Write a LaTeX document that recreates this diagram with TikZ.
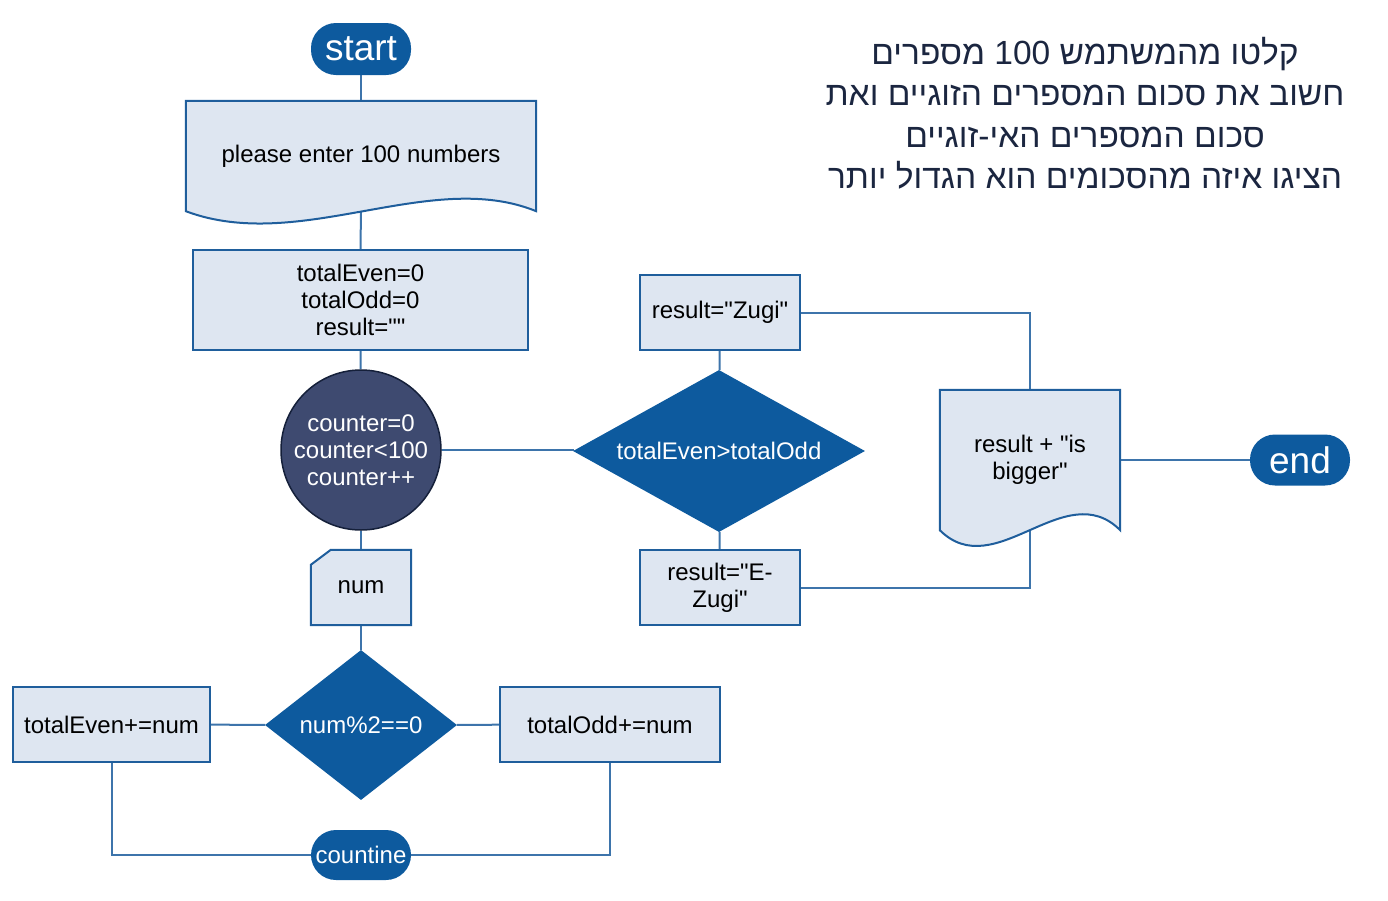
\documentclass[tikz,border=0pt]{standalone}
\usepackage{fontspec}
\setmainfont{Liberation Sans}[Ligatures=TeXOff]
\newfontfamily\hebfont[Script=Hebrew]{Liberation Sans}
\TeXXeTstate=1
\usetikzlibrary{shapes.geometric}
\definecolor{lightfill}{HTML}{DEE6F1}
\definecolor{bord}{HTML}{1F5E9C}
\definecolor{bluefill}{HTML}{0D5A9E}
\definecolor{linec}{HTML}{3D74AB}
\definecolor{circfill}{HTML}{3E4A70}
\definecolor{circbord}{HTML}{15203A}
\definecolor{hebtext}{HTML}{1B2640}
\pgfdeclarelayer{bg}
\pgfsetlayers{bg,main}
\begin{document}
\begin{tikzpicture}[x=1pt,y=-1pt,
 font=\fontsize{24}{27}\selectfont,
 conn/.style={draw=linec, line width=2pt},
 procbox/.style={rectangle, draw=bord, fill=lightfill, line width=2pt, align=center, inner sep=0pt},
 term/.style={rectangle, rounded corners=25pt, fill=bluefill, text=white, minimum width=100pt, inner sep=0pt},
 decis/.style={diamond, fill=bluefill, text=white, inner sep=0pt, aspect=1.8},
 plain/.style={inner sep=0pt, align=center},
 docshape/.style={draw=bord, fill=lightfill, line width=2pt},
]
\useasboundingbox (0,0) rectangle (1388,900);

% title
\node[align=center, text=hebtext, font=\hebfont\fontsize{33.5}{41.5}\selectfont] (title) at (1085,113)
 {\beginR קלטו מהמשתמש \beginL 100\endL{} מספרים\endR\\
  \beginR חשוב את סכום המספרים הזוגיים ואת\endR\\
  \beginR סכום המספרים האי-זוגיים\endR\\
  \beginR הציגו איזה מהסכומים הוא הגדול יותר\endR};

% left column
\node[term, minimum height=52pt, font=\fontsize{37}{40}\selectfont] (start) at (361,49) {start};
\node[plain, minimum width=350pt, minimum height=110pt] (doc1) at (361,156) {please enter 100 numbers};
\node[procbox, minimum width=335pt, minimum height=100pt] (init) at (360.5,300) {totalEven=0\\totalOdd=0\\result=""};
\node[circle, draw=circbord, fill=circfill, line width=1.5pt, minimum size=160pt, text=white, align=center, inner sep=0pt] (loop) at (361,450) {counter=0\\counter<100\\counter++};
\node[plain, minimum width=100pt, minimum height=75pt] (num) at (361,587.5) {num};
\node[decis, minimum width=192pt, minimum height=150pt] (mod) at (361,725) {num\%2==0};
\node[procbox, minimum width=197pt, minimum height=75pt] (teven) at (111.5,724.5) {totalEven+=num};
\node[procbox, minimum width=220pt, minimum height=75pt] (todd) at (610,724.5) {totalOdd+=num};
\node[term, minimum height=50pt] (cont) at (361,855) {countine};

% right part
\node[decis, minimum width=292pt, minimum height=162pt] (cmp) at (719,451) {totalEven>totalOdd};
\node[procbox, minimum width=160pt, minimum height=75pt] (zugi) at (720,312.5) {result="Zugi"};
\node[procbox, minimum width=160pt, minimum height=75pt] (ezugi) at (720,587.5) {result="E-\\Zugi"};
\node[plain, minimum width=180pt, minimum height=140pt] (doc2) at (1030,460) {result + "is\\bigger"};
\node[term, minimum height=51pt, font=\fontsize{37}{40}\selectfont] (end) at (1300,460) {end};

\begin{pgfonlayer}{bg}
 \draw[conn] (start) -- (doc1);
 \draw[conn] (doc1) -- (init);
 \draw[conn] (init) -- (loop);
 \draw[conn] (loop) -- (num);
 \draw[conn] (num) -- (mod);
 \draw[conn] (mod) -- (teven);
 \draw[conn] (mod) -- (todd);
 \draw[conn] (teven.south) |- (cont.west);
 \draw[conn] (todd.south) |- (cont.east);
 \draw[conn] (loop.east) -- (loop.east -| cmp.west) -- (cmp.west);
 \draw[conn] (cmp) -- (zugi);
 \draw[conn] (cmp) -- (ezugi);
 \draw[conn] (zugi.east) -| (doc2.north);
 \draw[conn] (ezugi.east) -| (doc2.south);
 \draw[conn] (doc2) -- (end);
 % document shapes
 \path[docshape] (doc1.north west) -- (doc1.north east) -- (doc1.south east)
   .. controls (430,168) and (300,254) .. (doc1.south west) -- cycle;
 \path[docshape] (doc2.north west) -- (doc2.north east) -- (doc2.south east)
   .. controls (1065,475) and (995,585) .. (doc2.south west) -- cycle;
 % card shape
 \path[docshape] ([yshift=-15pt]num.north west) -- ([xshift=20pt]num.north west) -- (num.north east)
   -- (num.south east) -- (num.south west) -- cycle;
\end{pgfonlayer}
\end{tikzpicture}
\end{document}
